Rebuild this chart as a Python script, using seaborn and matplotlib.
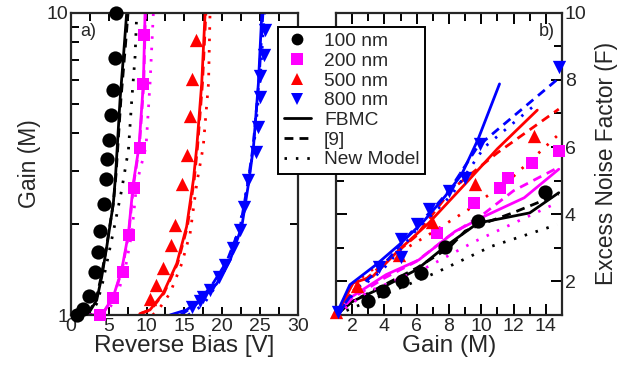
import matplotlib
matplotlib.use("Agg")
import matplotlib.pyplot as plt
from matplotlib.lines import Line2D
from matplotlib.ticker import FixedLocator, FixedFormatter, NullFormatter
import seaborn as sns

# ---------------- panel a): gain vs reverse bias ----------------
bias_100 = [0.75, 1.63, 2.34, 3.14, 3.53, 3.84, 4.33, 4.64, 4.8, 5.0, 5.3, 5.6, 5.8, 5.96]
gain_100 = [1.0, 1.05, 1.16, 1.39, 1.61, 1.89, 2.33, 2.81, 3.28, 3.8, 4.59, 5.56, 7.08, 10.0]
bias_200 = [3.84, 5.6, 6.85, 7.64, 8.39, 9.14, 9.58, 9.67]
gain_200 = [1.0, 1.135, 1.39, 1.84, 2.63, 3.56, 5.82, 8.45]
bias_500 = [10.46, 11.2, 12.15, 13.2, 13.7, 14.75, 15.4, 15.76, 16.0, 16.5]
gain_500 = [1.13, 1.26, 1.43, 1.71, 1.98, 2.71, 3.37, 4.54, 6.04, 8.14]
bias_800 = [16.0, 17.1, 17.5, 18.4, 19.56, 20.4, 21.5, 22.3, 22.95, 23.4, 24.5, 24.77,
            25.03, 25.07, 25.56, 25.7]
gain_800 = [1.06, 1.11, 1.15, 1.21, 1.34, 1.46, 1.66, 1.91, 2.28, 2.8, 3.47, 4.2,
            5.28, 6.18, 7.26, 8.74]

# model curves, panel a)
fbmc_v_100 = [0.3, 2.3, 3.4, 4.07, 4.73, 5.6, 5.9, 6.49, 7.0, 7.37]
fbmc_g_100 = [1.0, 1.01, 1.12, 1.34, 1.68, 2.34, 2.9, 5.15, 7.5, 10.0]
ref9_v_100 = [0.3, 2.2, 3.3, 4.0, 4.7, 5.6, 5.95, 6.6, 7.15, 7.55]
ref9_g_100 = [1.0, 1.01, 1.12, 1.34, 1.68, 2.34, 2.9, 5.15, 7.5, 10.0]
new_v_100 = [2.5, 3.4, 4.07, 4.73, 5.83, 6.7, 7.6, 8.04, 8.48, 8.7]
new_g_100 = [1.0, 1.09, 1.24, 1.48, 2.01, 2.59, 3.52, 5.15, 7.17, 10.0]

fbmc_v_200 = [0.3, 3.6, 4.28, 5.6, 6.71, 7.6, 8.25, 9.0, 9.58, 9.8]
fbmc_g_200 = [1.0, 1.0, 1.02, 1.15, 1.41, 1.86, 2.73, 3.61, 5.85, 10.0]
ref9_v_200 = [0.3, 3.65, 4.33, 5.65, 6.76, 7.65, 8.3, 9.05, 9.63, 9.85]
ref9_g_200 = [1.0, 1.0, 1.02, 1.15, 1.41, 1.86, 2.73, 3.61, 5.85, 10.0]
new_v_200 = [4.2, 4.73, 6.05, 7.15, 8.04, 8.7, 9.93, 10.46, 10.9]
new_g_200 = [1.0, 1.02, 1.15, 1.41, 1.86, 2.73, 3.61, 5.85, 10.0]

fbmc_v_500 = [9.1, 10.46, 12.2, 14.0, 15.3, 16.2, 16.65, 17.3, 17.75]
fbmc_g_500 = [1.01, 1.04, 1.18, 1.48, 1.96, 2.8, 3.61, 5.85, 10.0]
ref9_v_500 = [9.2, 10.55, 12.3, 14.1, 15.4, 16.3, 16.75, 17.4, 17.85]
ref9_g_500 = [1.01, 1.04, 1.18, 1.48, 1.96, 2.8, 3.61, 5.85, 10.0]
new_v_500 = [10.8, 11.56, 13.1, 14.66, 15.76, 16.65, 17.5, 18.2, 18.4]
new_g_500 = [1.0, 1.04, 1.18, 1.48, 1.86, 2.73, 3.61, 5.85, 10.0]

fbmc_v_800 = [13.1, 15.3, 17.1, 19.3, 21.06, 22.6, 23.5, 24.15, 24.8, 25.26]
fbmc_g_800 = [1.0, 1.04, 1.12, 1.27, 1.52, 1.96, 2.73, 3.61, 5.85, 10.0]
ref9_v_800 = [14.5, 16.5, 18.6, 20.6, 22.4, 23.4, 24.1, 24.85, 25.4]
ref9_g_800 = [1.0, 1.08, 1.25, 1.5, 1.96, 2.73, 3.61, 5.85, 10.0]
new_v_800 = [15.5, 17.5, 19.2, 20.8, 22.3, 23.4, 24.2, 25.0, 25.6]
new_g_800 = [1.0, 1.08, 1.25, 1.5, 1.96, 2.73, 3.61, 5.85, 10.0]

# ---------------- panel b): excess noise vs gain ----------------
m_100 = [2.97, 3.89, 5.08, 6.24, 7.77, 9.8, 13.94]
f_100 = [1.43, 1.70, 2.0, 2.25, 3.01, 3.79, 4.66]
m_200 = [7.25, 9.56, 11.13, 11.68, 13.16, 14.8]
f_200 = [3.44, 4.32, 4.79, 5.09, 5.54, 5.88]
m_500 = [1.0, 2.3, 4.91, 6.95, 9.6, 13.27]
f_500 = [1.1, 1.85, 2.79, 3.76, 4.89, 6.33]
m_800 = [1.14, 3.69, 5.01, 5.01, 6.03, 6.75, 7.97, 8.99, 9.9, 14.8]
f_800 = [1.1, 2.44, 2.72, 3.26, 3.72, 4.16, 4.69, 5.09, 6.08, 8.38]

fbmc_m_100 = [1, 2, 4, 6, 7.77, 9.8, 11, 13, 14.8]
fbmc_f_100 = [1, 1.4, 1.85, 2.35, 3.04, 3.74, 3.85, 4.04, 4.64]
ref9_m_100 = [1, 2, 4, 6, 8, 9.0, 10, 12, 14.8]
ref9_f_100 = [1, 1.4, 1.9, 2.4, 3.0, 3.5, 3.7, 4.05, 4.6]
new_m_100 = [1, 7.15, 10.6, 14.7]
new_f_100 = [1, 2.25, 3.04, 3.69]

fbmc_m_200 = [1, 2, 4.1, 6.13, 8.38, 10.2, 12.66, 14.8]
fbmc_f_200 = [1, 1.55, 2.2, 2.64, 3.49, 3.94, 4.49, 5.34]
ref9_m_200 = [1, 2, 4, 6, 8, 10.2, 12, 14.8]
ref9_f_200 = [1, 1.5, 2.1, 2.6, 3.35, 4.03, 4.7, 5.4]
new_m_200 = [1, 3, 5, 6.54, 9.6, 14.7]
new_f_200 = [1, 1.7, 2.1, 2.4, 3.19, 4.34]

fbmc_m_500 = [1, 2.06, 3.28, 4.91, 6.75, 9.0, 11.0, 13.47]
fbmc_f_500 = [1, 1.95, 2.15, 2.94, 3.74, 4.9, 5.95, 7.1]
ref9_m_500 = [1, 2, 4.1, 5.93, 8.17, 11.0, 14.8]
ref9_f_500 = [1, 1.7, 2.6, 3.34, 4.74, 5.83, 7.13]
new_m_500 = [1, 2.67, 4.0, 6.74, 9.2, 11.8, 14.8]
new_f_500 = [1, 2.15, 2.6, 3.39, 4.14, 5.04, 6.38]

fbmc_m_800 = [1, 1.86, 3.49, 4.91, 6.34, 7.77, 8.79, 9.8, 11.13]
fbmc_f_800 = [1, 1.9, 2.5, 3.09, 3.74, 4.54, 5.19, 6.23, 7.88]
ref9_m_800 = [1, 2.2, 3.7, 5.0, 6.0, 7.0, 8.0, 9.8, 14.8]
ref9_f_800 = [1, 1.75, 2.35, 3.1, 3.65, 4.15, 4.7, 6.03, 8.05]
new_m_800 = [1, 2.2, 3.8, 5.0, 6.0, 7.2, 8.2, 10.2, 13.27]
new_f_800 = [1, 1.7, 2.3, 2.95, 3.55, 4.1, 4.6, 6.0, 7.23]

# ---------------- labels ----------------
series_labels = ["100 nm", "200 nm", "500 nm", "800 nm"]
model_labels = ["FBMC", "[9]", "New Model"]
bias_ticks = [0, 5, 10, 15, 20, 25, 30]
gain_ticks_a = [1, 10]
gain_ticks_b = [2, 4, 6, 8, 10, 12, 14]
noise_ticks = [2, 4, 6, 8, 10]

colors = ["#000000", "#ff00ff", "#ff0000", "#0000ff"]
markers = ["o", "s", "^", "v"]
msizes = [105, 82, 92, 92]
styles = {"FBMC": "-", "[9]": (0, (3.2, 2.2)), "New Model": (0, (0.9, 3.2))}

sns.set_style("ticks")
plt.rcParams["font.family"] = ["Liberation Sans", "DejaVu Sans"]
plt.rcParams["axes.linewidth"] = 1.6

fig = plt.figure(figsize=(6.36, 3.72), dpi=100)
ax_a = fig.add_axes([71 / 636, 57 / 372, 226.7 / 636, 302.3 / 372])
ax_b = fig.add_axes([336 / 636, 57 / 372, 226 / 636, 302.3 / 372])

lw = 2.0

curves_a = [
    (fbmc_v_100, fbmc_g_100, ref9_v_100, ref9_g_100, new_v_100, new_g_100),
    (fbmc_v_200, fbmc_g_200, ref9_v_200, ref9_g_200, new_v_200, new_g_200),
    (fbmc_v_500, fbmc_g_500, ref9_v_500, ref9_g_500, new_v_500, new_g_500),
    (fbmc_v_800, fbmc_g_800, ref9_v_800, ref9_g_800, new_v_800, new_g_800),
]
points_a = [(bias_100, gain_100), (bias_200, gain_200), (bias_500, gain_500), (bias_800, gain_800)]

curves_b = [
    (fbmc_m_100, fbmc_f_100, ref9_m_100, ref9_f_100, new_m_100, new_f_100),
    (fbmc_m_200, fbmc_f_200, ref9_m_200, ref9_f_200, new_m_200, new_f_200),
    (fbmc_m_500, fbmc_f_500, ref9_m_500, ref9_f_500, new_m_500, new_f_500),
    (fbmc_m_800, fbmc_f_800, ref9_m_800, ref9_f_800, new_m_800, new_f_800),
]
points_b = [(m_100, f_100), (m_200, f_200), (m_500, f_500), (m_800, f_800)]

for ax, curves, points in ((ax_a, curves_a, points_a), (ax_b, curves_b, points_b)):
    for i, c in enumerate(curves):
        for k, name in enumerate(model_labels):
            sns.lineplot(x=c[2 * k], y=c[2 * k + 1], ax=ax, sort=False, estimator=None,
                         color=colors[i], linewidth=lw, linestyle=styles[name],
                         zorder=2)
        sns.scatterplot(x=points[i][0], y=points[i][1], ax=ax, marker=markers[i],
                        s=msizes[i], color=colors[i], linewidth=0, clip_on=False,
                        zorder=3)

# axes a)
ax_a.set_yscale("log")
ax_a.set_xlim(0, 30)
ax_a.set_ylim(1, 10)
ax_a.xaxis.set_major_locator(FixedLocator(bias_ticks))
ax_a.xaxis.set_major_formatter(FixedFormatter([str(t) for t in bias_ticks]))
ax_a.xaxis.set_minor_locator(FixedLocator([2.5 + 5 * k for k in range(6)]))
ax_a.yaxis.set_major_locator(FixedLocator(gain_ticks_a))
ax_a.yaxis.set_major_formatter(FixedFormatter([str(t) for t in gain_ticks_a]))
ax_a.yaxis.set_minor_locator(FixedLocator(list(range(2, 10))))
ax_a.yaxis.set_minor_formatter(NullFormatter())
ax_a.tick_params(which="both", direction="in", top=True, right=True,
                 width=1.4, length=5.5, labelsize=14, pad=2, color="black")
ax_a.set_xlabel("Reverse Bias [V]", fontsize=17.5, labelpad=0)
ax_a.set_ylabel("Gain (M)", fontsize=16.5, labelpad=4)
ax_a.text(0.04, 0.965, "a)", transform=ax_a.transAxes, fontsize=13, va="top", ha="left")

# axes b)
ax_b.set_xlim(1, 15)
ax_b.set_ylim(1, 10)
ax_b.xaxis.set_major_locator(FixedLocator(gain_ticks_b))
ax_b.xaxis.set_major_formatter(FixedFormatter([str(t) for t in gain_ticks_b]))
ax_b.xaxis.set_minor_locator(FixedLocator([3, 5, 7, 9, 11, 13]))
ax_b.yaxis.set_major_locator(FixedLocator(noise_ticks))
ax_b.yaxis.set_major_formatter(FixedFormatter([str(t) for t in noise_ticks]))
ax_b.yaxis.set_minor_locator(FixedLocator([3, 5, 7, 9]))
ax_b.yaxis.tick_right()
ax_b.yaxis.set_label_position("right")
ax_b.tick_params(which="both", direction="in", top=True, left=True, right=True,
                 labelleft=False, labelright=True, width=1.4, labelsize=14, pad=2,
                 color="black")
ax_b.tick_params(which="major", length=8)
ax_b.tick_params(which="minor", length=5.5)
ax_b.set_xlabel("Gain (M)", fontsize=17.5, labelpad=0)
ax_b.set_ylabel("Excess Noise Factor (F)", fontsize=16.3, labelpad=6)
ax_b.text(0.97, 0.965, "b)", transform=ax_b.transAxes, fontsize=13, va="top", ha="right")

# shared legend
handles = [Line2D([], [], linestyle="none", marker=markers[i], color=colors[i],
                  markersize=8.5, markeredgewidth=0) for i in range(4)]
handles += [Line2D([], [], color="black", linewidth=lw, linestyle=styles[n]) for n in model_labels]
leg = fig.legend(handles, series_labels + model_labels, loc="upper left",
                 bbox_to_anchor=(278 / 636, 1 - 27 / 372), bbox_transform=fig.transFigure,
                 fontsize=13.8, frameon=True, fancybox=False, framealpha=1,
                 borderaxespad=0, borderpad=0.3, labelspacing=0.12, handlelength=1.4,
                 handletextpad=0.7)
leg.get_frame().set_edgecolor("black")
leg.get_frame().set_linewidth(1.4)

fig.savefig("out.png", dpi=100)
